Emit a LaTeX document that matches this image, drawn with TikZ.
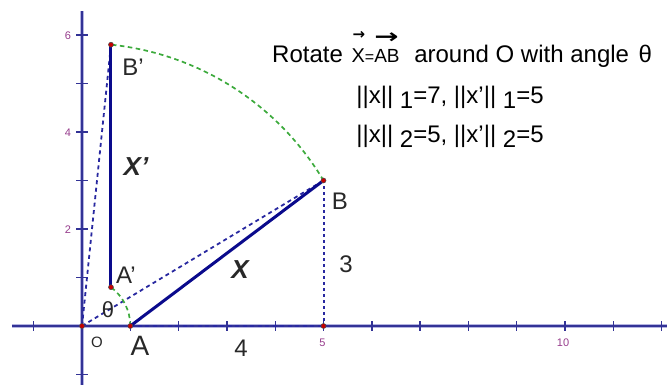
\documentclass[tikz,border=0pt]{standalone}
\usepackage{fontspec}
\usepackage{graphicx}
\setmainfont{Liberation Sans}
\newfontfamily\arrowfont{DejaVu Sans}
\definecolor{axiscol}{RGB}{50,50,150}
\definecolor{halocol}{RGB}{180,180,225}
\definecolor{segcol}{RGB}{10,10,140}
\definecolor{dashcol}{RGB}{40,40,160}
\definecolor{arccol}{RGB}{60,170,60}
\definecolor{ptcol}{RGB}{200,0,0}
\definecolor{txtcol}{RGB}{40,40,40}
\definecolor{tickcol}{RGB}{150,60,140}
\tikzset{
  haloline/.style={halocol,line width=3.2pt},
  axisline/.style={axiscol,line width=1.5pt},
  tickline/.style={axiscol,line width=1.4pt},
  seg/.style={segcol,line width=3pt},
  dashln/.style={dashcol,line width=1.8pt,dash pattern=on 4pt off 3.5pt},
  dotln/.style={dashcol,line width=2pt,dash pattern=on 3pt off 3pt},
  arcln/.style={arccol,line width=1.7pt,dash pattern=on 4.5pt off 3.5pt},
  pt/.style={circle,fill=ptcol,draw=black!70,line width=0.5pt,inner sep=0pt,minimum size=5pt},
  lbl/.style={txtcol,font=\fontsize{24}{26}\selectfont,inner sep=0pt},
  ticklbl/.style={tickcol,font=\fontsize{11}{12}\selectfont,inner sep=0pt},
  info/.style={black,font=\fontsize{24}{26}\selectfont,inner sep=0pt}
}
\newcommand{\lowsub}[1]{\raisebox{-5pt}{#1}}
\begin{document}
\begin{tikzpicture}[x=1pt,y=1pt]
\useasboundingbox (0,0) rectangle (667,385);
\begin{scope}[shift={(82,59)}, x=48.3pt, y=48.5pt]
  % axes
  \draw[haloline] (-1.45,0) -- (12.2,0);
  \draw[haloline] (0,-1.25) -- (0,6.5);
  \draw[axisline] (-1.45,0) -- (12.2,0);
  \draw[axisline] (0,-1.25) -- (0,6.5);
  \foreach \i in {-1,1,2,...,12} \draw[tickline] (\i,-0.1) -- (\i,0.1);
  \foreach \j in {-1,1,2,...,6} \draw[tickline] (-0.12,\j) -- (0.12,\j);
  \node[ticklbl] (t6) at (-0.29,5.99) {6};
  \node[ticklbl] (t4) at (-0.29,3.98) {4};
  \node[ticklbl] (t2) at (-0.29,1.98) {2};
  \node[ticklbl] (t5) at (4.98,-0.35) {5};
  \node[ticklbl] (t10) at (9.96,-0.35) {10};
  % points
  \coordinate (O) at (0,0);
  \coordinate (A) at (1,0);
  \coordinate (B) at (5,3);
  \coordinate (A1) at (0.6,0.8);
  \coordinate (B1) at (0.6,5.8);
  \coordinate (P) at (5,0);
  % dashed helpers
  \draw[dashln] (O) -- (B);
  \draw[dashln] (O) -- (B1);
  \draw[dashln] (A) -- (P);
  \draw[dotln] (B) -- (P);
  % arcs
  \draw[arcln] (B) arc[start angle=30.96, end angle=84.09, radius=5.831];
  \draw[arcln] (A) arc[start angle=0, end angle=53.13, radius=1];
  % vectors
  \draw[seg] (A) -- (B);
  \draw[seg] (A1) -- (B1);
  % points
  \foreach \p in {O,A,B,A1,B1,P} \node[pt] at (\p) {};
\end{scope}
\begin{scope}[shift={(0,385)}, y=-1pt]
  \node[lbl] (lB1) at (133,67) {B'};
  \node[lbl,font=\bfseries\itshape\fontsize{26}{28}\selectfont] (lX1) at (136,167) {X'};
  \node[lbl] (lA1) at (126,275) {A'};
  \node[lbl,font=\fontsize{22}{24}\selectfont] (lth) at (108,310) {θ};
  \node[lbl,font=\fontsize{15}{16}\selectfont] (lO) at (97,342) {O};
  \node[lbl,font=\fontsize{28}{30}\selectfont] (lA) at (140,346) {A};
  \node[lbl] (l4) at (241,348) {4};
  \node[lbl,font=\bfseries\itshape\fontsize{26}{28}\selectfont] (lX) at (240,270) {X};
  \node[lbl] (l3) at (346,264) {3};
  \node[lbl] (lB) at (340,201) {B};
  \node[info,anchor=base west] (t1) at (272,63) {Rotate\hspace{2pt}
    \makebox[0pt][l]{\hspace{1pt}\raisebox{23pt}{\arrowfont\bfseries\fontsize{15}{15}\selectfont →}}{\fontsize{20}{20}\selectfont X}%
    {\fontsize{16}{16}\selectfont =}%
    \makebox[0pt][l]{\raisebox{19pt}{\scalebox{1.45}[1]{\arrowfont\bfseries\fontsize{20}{20}\selectfont →}}}{\fontsize{19}{20}\selectfont AB}\hspace{8pt}
    around O with angle \hspace{3pt}θ};
  \node[info,anchor=base] (t2) at (450,104) {||x|| \lowsub{1}=7, ||x'|| \lowsub{1}=5};
  \node[info,anchor=base] (t3) at (450,143) {||x|| \lowsub{2}=5, ||x'|| \lowsub{2}=5};
\end{scope}
\end{tikzpicture}
\end{document}
